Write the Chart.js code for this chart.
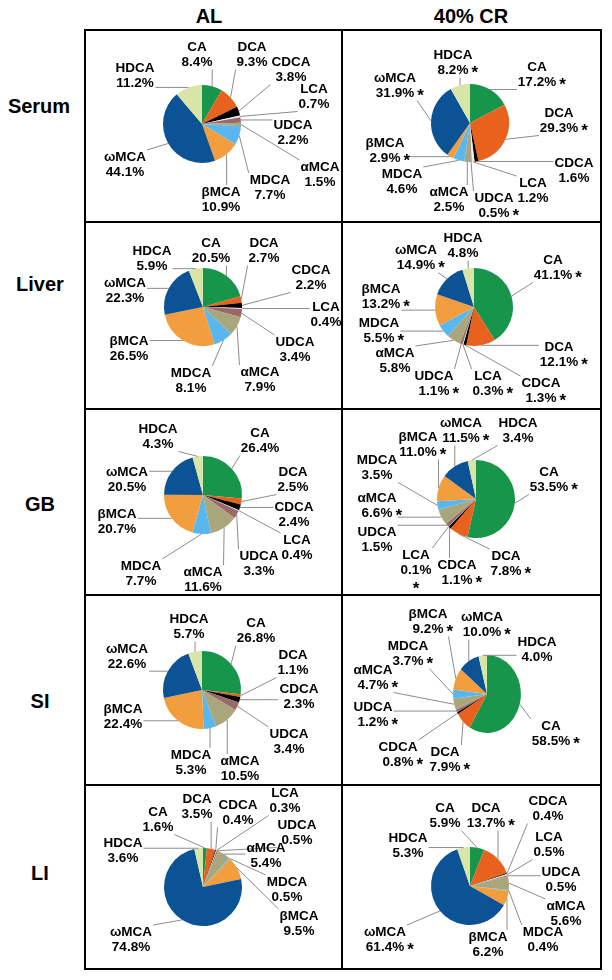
<!DOCTYPE html>
<html>
<head>
<meta charset="utf-8">
<script src="https://cdn.jsdelivr.net/npm/chart.js@4.4.0/dist/chart.umd.min.js"></script>
<style>
  body { margin: 0; background: #fff; }
  #page { position: relative; width: 612px; height: 980px; overflow: hidden;
          font-family: "Liberation Sans", Arial, sans-serif; }
  #page canvas { position: absolute; left: 0; top: 0; }
  .txt { position: absolute; transform: translate(-50%, -50%); font-weight: bold;
         font-size: 20px; white-space: nowrap; color: #000; }
  .box { position: absolute; border: 2px solid #000; box-sizing: border-box; }
  .hl { position: absolute; height: 2px; background: #000; }
  .vl { position: absolute; width: 2px; background: #000; }
</style>
</head>
<body>
<div id="page">
  <div class="txt" style="left:209px; top:16px;">AL</div>
  <div class="txt" style="left:471px; top:16px;">40% CR</div>
  <div class="txt" style="left:39px; top:106px;">Serum</div>
  <div class="txt" style="left:40px; top:284px;">Liver</div>
  <div class="txt" style="left:40px; top:504px;">GB</div>
  <div class="txt" style="left:40px; top:701px;">SI</div>
  <div class="txt" style="left:40px; top:873px;">LI</div>

  <div class="box" style="left:84px; top:29px; width:518px; height:941px;"></div>
  <div class="vl" style="left:341px; top:29px; height:941px;"></div>
  <div class="hl" style="left:84px; top:221px; width:518px;"></div>
  <div class="hl" style="left:84px; top:408px; width:518px;"></div>
  <div class="hl" style="left:84px; top:594px; width:518px;"></div>
  <div class="hl" style="left:84px; top:784px; width:518px;"></div>
</div>

<script>
// bile acid species, in pie order (clockwise from 12 o'clock)
const compounds = ['CA', 'DCA', 'CDCA', 'LCA', 'UDCA', 'αMCA', 'MDCA', 'βMCA', 'ωMCA', 'HDCA'];
const colors = ['#17954a', '#e8611d', '#000000', '#ececec', '#9a6868',
                '#aaa67b', '#5ab7ee', '#f39e3e', '#0b5394', '#d8e5a6'];

// % composition, AL vs 40% CR
const serumAL = [8.4, 9.3, 3.8, 0.7, 2.2, 1.5, 7.7, 10.9, 44.1, 11.2];
const serumCR = [17.2, 29.3, 1.6, 1.2, 0.5, 2.5, 4.6, 2.9, 31.9, 8.2];
const liverAL = [20.5, 2.7, 2.2, 0.4, 3.4, 7.9, 8.1, 26.5, 22.3, 5.9];
const liverCR = [41.1, 12.1, 1.3, 0.3, 1.1, 5.8, 5.5, 13.2, 14.9, 4.8];
const gbAL    = [26.4, 2.5, 2.4, 0.4, 3.3, 11.6, 7.7, 20.7, 20.5, 4.3];
const gbCR    = [53.5, 7.8, 1.1, 0.1, 1.5, 6.6, 3.5, 11.0, 11.5, 3.4];
const siAL    = [26.8, 1.1, 2.3, null, 3.4, 10.5, 5.3, 22.4, 22.6, 5.7];
const siCR    = [58.5, 7.9, 0.8, null, 1.2, 4.7, 3.7, 9.2, 10.0, 4.0];
const liAL    = [1.6, 3.5, 0.4, 0.3, 0.5, 5.4, 0.5, 9.5, 74.8, 3.6];
const liCR    = [5.9, 13.7, 0.4, 0.5, 0.5, 5.6, 0.4, 6.2, 61.4, 5.3];

// * = significant vs AL
const serumSig = [1, 1, 0, 0, 1, 0, 0, 1, 1, 1];
const liverSig = [1, 1, 1, 1, 1, 0, 1, 1, 1, 0];
const gbSig    = [1, 1, 1, 1, 0, 1, 0, 1, 1, 0];
const siSig    = [1, 1, 1, 0, 1, 1, 1, 1, 1, 0];
const liSig    = [0, 1, 0, 0, 0, 0, 0, 0, 1, 0];

// label placement (name line centre, page px) - layout only
const serumALPos = [[197,47],[252,47],[291,62],[314,89],[293,125],[320,167],[270,180],[221,192],[125,157],[135,68]];
const serumCRPos = [[537,67],[559,113],[574,163],[533,183],[494,198],[449,192],[402,174],[385,143],[395,78],[453,55]];
const liverALPos = [[211,243],[264,243],[311,270],[326,307],[295,342],[260,372],[191,373],[129,341],[125,283],[152,251]];
const liverCRPos = [[553,260],[559,347],[541,383],[488,376],[434,376],[395,353],[379,323],[381,289],[416,250],[463,238]];
const gbALPos    = [[260,433],[293,472],[294,507],[297,540],[259,556],[203,572],[141,566],[117,514],[127,472],[158,429]];
const gbCRPos    = [[549,472],[506,556],[457,565],[416,555,'below'],[377,532],[377,498],[377,460],[418,437],[461,423],[518,423]];
const siALPos    = [[256,623],[293,655],[299,689],null,[289,734],[240,761],[191,755],[123,709],[127,649],[189,619]];
const siCRPos    = [[551,726],[445,752],[398,747],null,[373,707],[373,670],[408,646],[428,614],[482,617],[537,642]];
const liALPos    = [[158,812],[197,799],[238,805],[285,793],[297,825],[266,848],[287,882],[299,916],[131,932],[123,843]];
const liCRPos    = [[445,808],[486,808],[548,801],[549,837],[561,872],[566,906],[543,932],[488,937],[385,932],[408,838]];

const W = 612, H = 980, R = 39, LINE = 15.5;

const pies = [
  { data: serumAL, sig: null,     pos: serumALPos, cx: 202, cy: 124, sx: 1 },
  { data: serumCR, sig: serumSig, pos: serumCRPos, cx: 470, cy: 123, sx: 1 },
  { data: liverAL, sig: null,     pos: liverALPos, cx: 203, cy: 307, sx: 1 },
  { data: liverCR, sig: liverSig, pos: liverCRPos, cx: 474, cy: 307, sx: 1 },
  { data: gbAL,    sig: null,     pos: gbALPos,    cx: 203, cy: 495, sx: 1 },
  { data: gbCR,    sig: gbSig,    pos: gbCRPos,    cx: 476, cy: 499, sx: 1 },
  { data: siAL,    sig: null,     pos: siALPos,    cx: 202, cy: 690, sx: 1 },
  { data: siCR,    sig: siSig,    pos: siCRPos,    cx: 487, cy: 694, sx: 0.87 },
  { data: liAL,    sig: null,     pos: liALPos,    cx: 203, cy: 887, sx: 1 },
  { data: liCR,    sig: liSig,    pos: liCRPos,    cx: 470, cy: 886, sx: 1 }
];

const LABEL_FONT = 'bold 13.5px "Liberation Sans", Arial, sans-serif';
const STAR_FONT = 'bold 17px "Liberation Sans", Arial, sans-serif';

// squeeze the pie horizontally where needed, then draw leader lines + labels
function labelPlugin(p) {
  return {
    id: 'leaderLabels',
    beforeDatasetsDraw(chart) {
      const ctx = chart.ctx;
      ctx.save();
      ctx.translate(p.cx, p.cy);
      ctx.scale(p.sx, 1);
      ctx.translate(-p.cx, -p.cy);
    },
    afterDatasetsDraw(chart) {
      const ctx = chart.ctx;
      ctx.restore();
      const meta = chart.getDatasetMeta(0);
      ctx.save();
      ctx.textBaseline = 'middle';
      meta.data.forEach((arc, i) => {
        const v = p.data[i];
        if (v == null || !p.pos[i]) return;
        const [lx, ly, starPos] = p.pos[i];
        const name = compounds[i];
        const val = v.toFixed(1) + '%';
        ctx.font = LABEL_FONT;
        const wVal = ctx.measureText(val).width;
        const w = Math.max(ctx.measureText(name).width, wVal);
        const box = { l: lx - w / 2 - 1, r: lx + w / 2 + 1, t: ly - 7, b: ly + LINE + 7 };

        const mid = (arc.startAngle + arc.endAngle) / 2;
        const ex = arc.x + Math.cos(mid) * arc.outerRadius * p.sx;
        const ey = arc.y + Math.sin(mid) * arc.outerRadius;
        const ax = Math.min(Math.max(ex, box.l), box.r);
        const ay = Math.min(Math.max(ey, box.t), box.b);
        if (Math.hypot(ax - ex, ay - ey) > 3) {
          ctx.strokeStyle = '#8c8c8c';
          ctx.lineWidth = 1;
          ctx.beginPath();
          ctx.moveTo(ex, ey);
          ctx.lineTo(ax, ay);
          ctx.stroke();
        }

        ctx.fillStyle = '#000';
        ctx.textAlign = 'center';
        ctx.fillText(name, lx, ly);
        ctx.fillText(val, lx, ly + LINE);
        if (p.sig && p.sig[i]) {
          ctx.font = STAR_FONT;
          if (starPos === 'below') {
            ctx.fillText('*', lx, ly + 2 * LINE + 3);
          } else {
            ctx.textAlign = 'left';
            ctx.fillText('*', lx + wVal / 2 + 3, ly + LINE + 3);
          }
        }
      });
      ctx.restore();
    }
  };
}

const page = document.getElementById('page');
pies.forEach(p => {
  const canvas = document.createElement('canvas');
  canvas.width = W;
  canvas.height = H;
  page.appendChild(canvas);
  new Chart(canvas, {
    type: 'pie',
    data: {
      labels: compounds,
      datasets: [{
        data: p.data,
        backgroundColor: colors,
        borderWidth: 0,
        hoverOffset: 0,
        offset: 0
      }]
    },
    options: {
      responsive: false,
      animation: false,
      events: [],
      radius: R,
      layout: {
        padding: { left: p.cx - R - 2, right: W - p.cx - R - 2, top: p.cy - R - 2, bottom: H - p.cy - R - 2 }
      },
      plugins: { legend: { display: false }, tooltip: { enabled: false } }
    },
    plugins: [labelPlugin(p)]
  });
});
</script>
</body>
</html>
